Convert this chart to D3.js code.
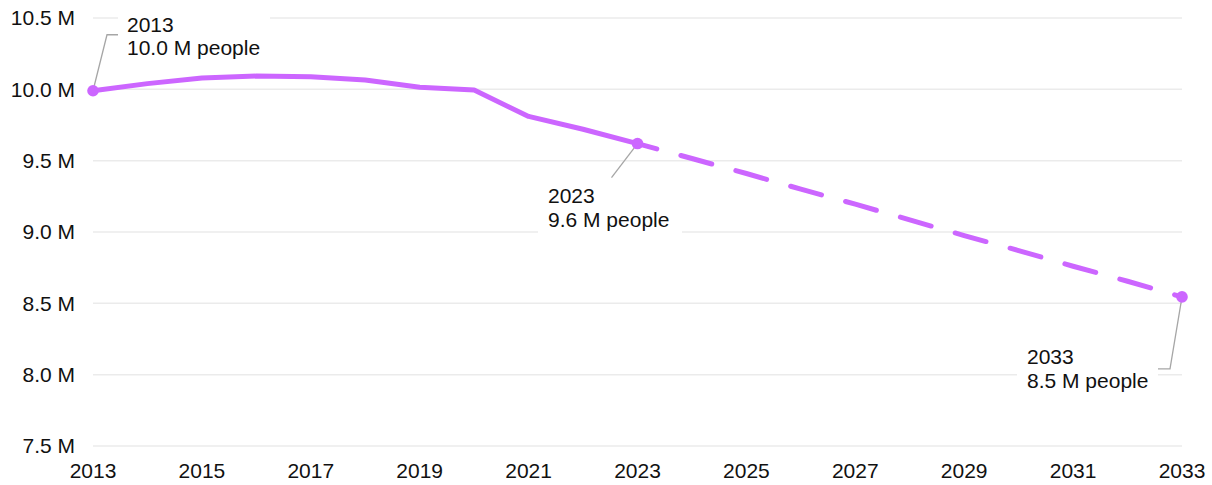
<!DOCTYPE html>
<html><head><meta charset="utf-8">
<script src="https://cdn.jsdelivr.net/npm/d3@7"></script>
<style>body{margin:0;background:#fff;font-family:"Liberation Sans",Arial,sans-serif;}</style>
</head><body><svg id="c" width="1212" height="485"></svg>
<script>
const histYears = [2013,2014,2015,2016,2017,2018,2019,2020,2021,2022,2023];
const histValues = [9.99,10.04,10.08,10.093,10.088,10.065,10.015,9.995,9.81,9.72,9.62];
const projYears = [2023,2024,2025,2026,2027,2028,2029,2030,2031,2032,2033];
const projValues = [9.62,9.515,9.41,9.30,9.195,9.085,8.975,8.87,8.76,8.655,8.545];
const yTicks = [7.5,8.0,8.5,9.0,9.5,10.0,10.5];
const xTicks = [2013,2015,2017,2019,2021,2023,2025,2027,2029,2031,2033];
const annotations = [
  {year:2013, value:9.99, lines:["2013","10.0 M people"]},
  {year:2023, value:9.62, lines:["2023","9.6 M people"]},
  {year:2033, value:8.545, lines:["2033","8.5 M people"]}
];

const FS = 21;
const svg = d3.select("#c");
const x = d3.scaleLinear().domain([2013,2033]).range([93,1182]);
const y = d3.scaleLinear().domain([7.5,10.5]).range([446,18]);
const color = "#cc66ff";

svg.append("g").selectAll("line").data(yTicks).join("line")
  .attr("x1",93).attr("x2",1182).attr("y1",d=>y(d)).attr("y2",d=>y(d))
  .attr("stroke","#ebebeb").attr("stroke-width",1.5);

svg.append("g").selectAll("text").data(yTicks).join("text")
  .attr("x",75).attr("y",d=>y(d)).attr("dy","0.35em").attr("text-anchor","end")
  .attr("font-size",FS).attr("fill","#111").text(d=>d.toFixed(1)+" M");

svg.append("g").selectAll("text").data(xTicks).join("text")
  .attr("x",d=>x(d)).attr("y",478).attr("text-anchor","middle")
  .attr("font-size",FS).attr("fill","#111").text(d=>d);

const annLayout = {
  2013:{tx:127, ty:31.5, path:(px,py)=>`M${px},${py}L${px+14},${py-56}L${px+25},${py-56}`, box:[118,12,152]},
  2023:{tx:548, ty:203, path:(px,py)=>`M${px},${py}L${px-26},${py+34}`, box:[538,184,144]},
  2033:{tx:1027, ty:364, path:(px,py)=>`M${px},${py}L${px-12},${py+72}L${px-24},${py+72}`, box:[1017,345,141]}
};
const lineGen = d3.line().x(d=>x(d[0])).y(d=>y(d[1]));

annotations.forEach(a=>{
  const L = annLayout[a.year];
  svg.append("rect").attr("x",L.box[0]).attr("y",L.box[1]).attr("width",L.box[2]).attr("height",52).attr("fill","#fff");
});

svg.append("path").datum(histYears.map((d,i)=>[d,histValues[i]]))
  .attr("d",lineGen).attr("fill","none").attr("stroke",color).attr("stroke-width",5)
  .attr("stroke-linejoin","round").attr("stroke-linecap","round");
svg.append("path").datum(projYears.map((d,i)=>[d,projValues[i]]))
  .attr("d",lineGen).attr("fill","none").attr("stroke",color).attr("stroke-width",5)
  .attr("stroke-dasharray","32,25").attr("stroke-dashoffset",12).attr("stroke-linecap","round");

annotations.forEach(a=>{
  const L = annLayout[a.year];
  const px = x(a.year), py = y(a.value);
  svg.append("path").attr("d",L.path(px,py)).attr("fill","none").attr("stroke","#a6a6a6").attr("stroke-width",1.3);
  svg.append("circle").attr("cx",px).attr("cy",py).attr("r",5.8).attr("fill",color);
  a.lines.forEach((t,i)=>{
    svg.append("text").attr("x",L.tx).attr("y",L.ty+i*23.5).attr("font-size",FS).attr("fill","#111").text(t);
  });
});
</script></body></html>
